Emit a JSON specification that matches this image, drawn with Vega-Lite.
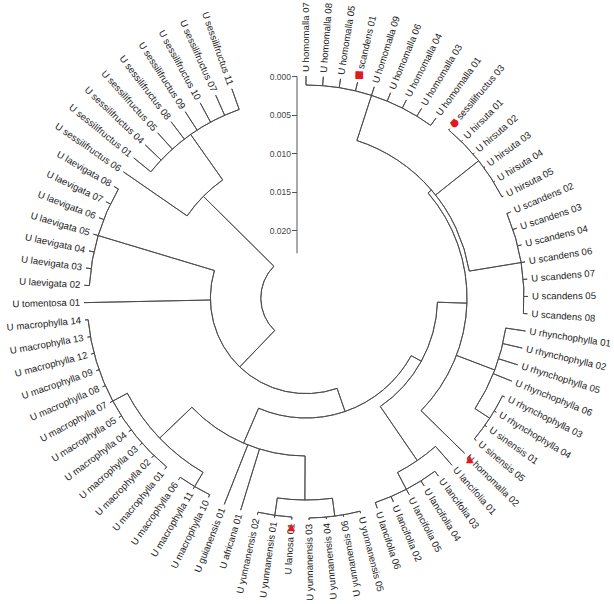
{
  "$schema": "https://vega.github.io/schema/vega-lite/v6.json",
  "width": 612,
  "height": 596,
  "autosize": {"type": "none"},
  "padding": {"left": 0, "top": 0, "right": 2, "bottom": 8},
  "background": "white",
  "config": {"view": {"stroke": null}, "font": "Liberation Sans"},
  "datasets": {
    "tips": [
      {"name": "U homomalla 07", "order": 0, "parent_d": 0.00117},
      {"name": "U homomalla 08", "order": 1, "parent_d": 0.00117},
      {"name": "U homomalla 05", "order": 2, "parent_d": 0.00117},
      {"name": "U scandens 01", "order": 3, "parent_d": 0.00117, "marker": "square"},
      {"name": "U homomalla 09", "order": 4, "parent_d": 0.00117},
      {"name": "U homomalla 06", "order": 5, "parent_d": 0.00117},
      {"name": "U homomalla 04", "order": 6, "parent_d": 0.00117},
      {"name": "U homomalla 03", "order": 7, "parent_d": 0.00117},
      {"name": "U homomalla 01", "order": 8, "parent_d": 0.00117},
      {"name": "U sessilifructus 03", "order": 9, "parent_d": 0.00019, "marker": "circle"},
      {"name": "U hirsuta 01", "order": 10, "parent_d": 0.00019},
      {"name": "U hirsuta 02", "order": 11, "parent_d": 0.00019},
      {"name": "U hirsuta 03", "order": 12, "parent_d": 0.00019},
      {"name": "U hirsuta 04", "order": 13, "parent_d": 0.00019},
      {"name": "U hirsuta 05", "order": 14, "parent_d": 0.00019},
      {"name": "U scandens 02", "order": 15, "parent_d": 0.00052},
      {"name": "U scandens 03", "order": 16, "parent_d": 0.00052},
      {"name": "U scandens 04", "order": 17, "parent_d": 0.00052},
      {"name": "U scandens 06", "order": 18, "parent_d": 0.00052},
      {"name": "U scandens 07", "order": 19, "parent_d": 0.00052},
      {"name": "U scandens 05", "order": 20, "parent_d": 0.00052},
      {"name": "U scandens 08", "order": 21, "parent_d": 0.00052},
      {"name": "U rhynchophylla 01", "order": 22, "parent_d": 0.00259},
      {"name": "U rhynchophylla 02", "order": 23, "parent_d": 0.00259},
      {"name": "U rhynchophylla 05", "order": 24, "parent_d": 0.00259},
      {"name": "U rhynchophylla 06", "order": 25, "parent_d": 0.00259},
      {"name": "U rhynchophylla 03", "order": 26, "parent_d": 0.00032},
      {"name": "U rhynchophylla 04", "order": 27, "parent_d": 0.00032},
      {"name": "U sinensis 01", "order": 28, "parent_d": 0.00032},
      {"name": "U sinensis 05", "order": 29, "parent_d": 0.00032},
      {"name": "U homomalla 02", "order": 30, "parent_d": 0.0079, "marker": "triangle"},
      {"name": "U lancifolia 01", "order": 31, "parent_d": 0.00324},
      {"name": "U lancifolia 03", "order": 32, "parent_d": 0.00078},
      {"name": "U lancifolia 04", "order": 33, "parent_d": 0.00078},
      {"name": "U lancifolia 05", "order": 34, "parent_d": 0.00078},
      {"name": "U lancifolia 02", "order": 35, "parent_d": 0.00078},
      {"name": "U lancifolia 06", "order": 36, "parent_d": 0.00078},
      {"name": "U yunnanensis 05", "order": 37, "parent_d": 0.00026},
      {"name": "U yunnanensis 06", "order": 38, "parent_d": 0.00026},
      {"name": "U yunnanensis 04", "order": 39, "parent_d": 0.00026},
      {"name": "U yunnanensis 03", "order": 40, "parent_d": 0.00026},
      {"name": "U lanosa 01", "order": 41, "parent_d": 0.00032, "marker": "triangle"},
      {"name": "U yunnanensis 01", "order": 42, "parent_d": 0.00032},
      {"name": "U yunnanensis 02", "order": 43, "parent_d": 0.00032},
      {"name": "U africana 01", "order": 44, "parent_d": 0.00829},
      {"name": "U guianensis 01", "order": 45, "parent_d": 0.00829},
      {"name": "U macrophylla 10", "order": 46, "parent_d": 0.00039},
      {"name": "U macrophylla 11", "order": 47, "parent_d": 0.00039},
      {"name": "U macrophylla 06", "order": 48, "parent_d": 0.00039},
      {"name": "U macrophylla 01", "order": 49, "parent_d": 0.00039},
      {"name": "U macrophylla 02", "order": 50, "parent_d": 0.00039},
      {"name": "U macrophylla 03", "order": 51, "parent_d": 0.00039},
      {"name": "U macrophylla 04", "order": 52, "parent_d": 0.00039},
      {"name": "U macrophylla 05", "order": 53, "parent_d": 0.00039},
      {"name": "U macrophylla 07", "order": 54, "parent_d": 0.00039},
      {"name": "U macrophylla 08", "order": 55, "parent_d": 0.00039},
      {"name": "U macrophylla 09", "order": 56, "parent_d": 0.00039},
      {"name": "U macrophylla 12", "order": 57, "parent_d": 0.00039},
      {"name": "U macrophylla 13", "order": 58, "parent_d": 0.00039},
      {"name": "U macrophylla 14", "order": 59, "parent_d": 0.00039},
      {"name": "U tomentosa 01", "order": 60, "parent_d": 0.01637},
      {"name": "U laevigata 02", "order": 61, "parent_d": 0.00065},
      {"name": "U laevigata 03", "order": 62, "parent_d": 0.00065},
      {"name": "U laevigata 04", "order": 63, "parent_d": 0.00065},
      {"name": "U laevigata 05", "order": 64, "parent_d": 0.00065},
      {"name": "U laevigata 06", "order": 65, "parent_d": 0.00065},
      {"name": "U laevigata 07", "order": 66, "parent_d": 0.00065},
      {"name": "U laevigata 08", "order": 67, "parent_d": 0.00065},
      {"name": "U sessilifructus 06", "order": 68, "parent_d": 0.01004},
      {"name": "U sessilifructus 01", "order": 69, "parent_d": 0.00285},
      {"name": "U sessilifructus 04", "order": 70, "parent_d": 0.00285},
      {"name": "U sessilifructus 05", "order": 71, "parent_d": 0.00285},
      {"name": "U sessilifructus 08", "order": 72, "parent_d": 0.00285},
      {"name": "U sessilifructus 09", "order": 73, "parent_d": 0.00285},
      {"name": "U sessilifructus 10", "order": 74, "parent_d": 0.00285},
      {"name": "U sessilifructus 07", "order": 75, "parent_d": 0.00285},
      {"name": "U sessilifructus 11", "order": 76, "parent_d": 0.00285}
    ],
    "nodes": [
      {"node": "root", "pos": 60.11, "d": 0.0229, "lo": 49.97, "hi": 70.25},
      {"node": "A", "pos": 49.97, "d": 0.01637, "parent_d": 0.0229, "lo": 35.94, "hi": 64},
      {"node": "B", "pos": 70.25, "d": 0.01004, "parent_d": 0.0229, "lo": 68, "hi": 72.5},
      {"node": "C", "pos": 35.94, "d": 0.01321, "parent_d": 0.01637, "lo": 26.5, "hi": 45.375},
      {"node": "D", "pos": 72.5, "d": 0.00285, "parent_d": 0.01004, "lo": 69, "hi": 76},
      {"node": "E", "pos": 64, "d": 0.00065, "parent_d": 0.01637, "lo": 61, "hi": 67},
      {"node": "F", "pos": 45.375, "d": 0.00829, "parent_d": 0.01321, "lo": 40.25, "hi": 50.5},
      {"node": "G", "pos": 40.25, "d": 0.00259, "parent_d": 0.00829, "lo": 38.5, "hi": 42},
      {"node": "I", "pos": 50.5, "d": 0.00253, "parent_d": 0.00829, "lo": 47, "hi": 54},
      {"node": "J", "pos": 47, "d": 0.00039, "parent_d": 0.00253, "lo": 46, "hi": 48},
      {"node": "HK", "pos": 54, "d": 0.00039, "parent_d": 0.00253, "lo": 49, "hi": 59},
      {"node": "L", "pos": 42, "d": 0.00032, "parent_d": 0.00259, "lo": 41, "hi": 43},
      {"node": "M", "pos": 38.5, "d": 0.00026, "parent_d": 0.00259, "lo": 37, "hi": 40},
      {"node": "N", "pos": 26.5, "d": 0.01172, "parent_d": 0.01321, "lo": 20.5, "hi": 32.5},
      {"node": "P", "pos": 20.5, "d": 0.0079, "parent_d": 0.01172, "lo": 11, "hi": 30},
      {"node": "T", "pos": 32.5, "d": 0.00324, "parent_d": 0.01172, "lo": 31, "hi": 34},
      {"node": "U", "pos": 34, "d": 0.00078, "parent_d": 0.00324, "lo": 32, "hi": 36},
      {"node": "Y", "pos": 11, "d": 0.00732, "parent_d": 0.0079, "lo": 4, "hi": 18},
      {"node": "S", "pos": 24.75, "d": 0.00259, "parent_d": 0.0079, "lo": 22, "hi": 27.5},
      {"node": "V", "pos": 27.5, "d": 0.00032, "parent_d": 0.00259, "lo": 26, "hi": 29},
      {"node": "Z", "pos": 4, "d": 0.00117, "parent_d": 0.00732, "lo": 0, "hi": 8},
      {"node": "W", "pos": 11.5, "d": 0.00019, "parent_d": 0.00732, "lo": 9, "hi": 14},
      {"node": "X", "pos": 18, "d": 0.00052, "parent_d": 0.00732, "lo": 15, "hi": 21}
    ]
  },
  "layer": [
    {
      "data": {"values": [{"v": 0}, {"v": 0.0229}]},
      "mark": {"type": "point", "opacity": 0},
      "encoding": {
        "y": {
          "field": "v", "type": "quantitative",
          "scale": {"domain": [0, 0.0229], "range": [76, 252.8], "nice": false, "zero": false},
          "axis": {"values": [0, 0.005, 0.01, 0.015, 0.02], "format": ".3f", "title": null, "offset": -296.5, "grid": false,
                   "domainColor": "#555", "tickColor": "#555", "labelColor": "#444", "labelFont": "Liberation Sans",
                   "labelFontSize": 8.5, "tickSize": 5, "labelPadding": 1, "domainWidth": 1, "tickWidth": 1}
        }
      }
    },
    {
      "data": {"name": "nodes"},
      "transform": [{"filter": "isValid(datum.parent_d)"}],
      "mark": {"type": "arc", "filled": false, "stroke": "#4a4a4a", "strokeWidth": 0.9},
      "encoding": {
        "theta": {"field": "pos", "type": "quantitative", "stack": null, "scale": {"domain": [0, 80.357], "range": [0, 6.283185]}},
        "theta2": {"field": "pos"},
        "radius": {"field": "parent_d", "type": "quantitative", "scale": {"domain": [0, 0.02], "range": [222, 67.6], "zero": false, "nice": false}},
        "radius2": {"field": "d"}
      }
    },
    {
      "data": {"name": "nodes"},
      "mark": {"type": "arc", "filled": false, "stroke": "#4a4a4a", "strokeWidth": 0.9},
      "encoding": {
        "theta": {"field": "lo", "type": "quantitative", "stack": null, "scale": {"domain": [0, 80.357], "range": [0, 6.283185]}},
        "theta2": {"field": "hi"},
        "radius": {"field": "d", "type": "quantitative", "scale": {"domain": [0, 0.02], "range": [222, 67.6], "zero": false, "nice": false}},
        "radius2": {"field": "d"}
      }
    },
    {
      "data": {"name": "tips"},
      "mark": {"type": "arc", "filled": false, "stroke": "#4a4a4a", "strokeWidth": 0.9},
      "encoding": {
        "theta": {"field": "order", "type": "quantitative", "stack": null, "scale": {"domain": [0, 80.357], "range": [0, 6.283185]}},
        "theta2": {"field": "order"},
        "radius": {"field": "parent_d", "type": "quantitative", "scale": {"domain": [0, 0.02], "range": [222, 67.6], "zero": false, "nice": false}},
        "radius2": {"datum": 0}
      }
    },
    {
      "data": {"name": "tips"},
      "transform": [{"filter": "datum.order <= 37"}],
      "mark": {"type": "text", "align": "left", "baseline": "middle", "font": "Liberation Sans", "fontSize": 9.6, "color": "#222"},
      "encoding": {
        "theta": {"field": "order", "type": "quantitative", "stack": null, "scale": {"domain": [0, 80.357], "range": [0, 6.283185]}},
        "radius": {"datum": -0.00052, "type": "quantitative", "scale": {"domain": [0, 0.02], "range": [222, 67.6], "zero": false, "nice": false}},
        "angle": {"field": "order", "type": "quantitative", "scale": {"domain": [0, 80.357], "range": [-90, 270]}, "legend": null},
        "dx": {"condition": {"test": "datum.marker", "value": 12}, "value": 0},
        "text": {"field": "name"}
      }
    },
    {
      "data": {"name": "tips"},
      "transform": [{"filter": "datum.order >= 38"}],
      "mark": {"type": "text", "align": "right", "baseline": "middle", "font": "Liberation Sans", "fontSize": 9.6, "color": "#222"},
      "encoding": {
        "theta": {"field": "order", "type": "quantitative", "stack": null, "scale": {"domain": [0, 80.357], "range": [0, 6.283185]}},
        "radius": {"datum": -0.00052, "type": "quantitative", "scale": {"domain": [0, 0.02], "range": [222, 67.6], "zero": false, "nice": false}},
        "angle": {"field": "order", "type": "quantitative", "scale": {"domain": [0, 80.357], "range": [-270, 90]}, "legend": null},
        "dx": {"condition": {"test": "datum.marker", "value": -12}, "value": 0},
        "text": {"field": "name"}
      }
    },
    {
      "data": {"name": "tips"},
      "transform": [{"filter": "datum.marker"}],
      "mark": {"type": "text", "align": "center", "baseline": "middle", "font": "DejaVu Sans", "fontSize": 10, "color": "#e8161b"},
      "encoding": {
        "theta": {"field": "order", "type": "quantitative", "stack": null, "scale": {"domain": [0, 80.357], "range": [0, 6.283185]}},
        "radius": {"datum": -0.00097, "type": "quantitative", "scale": {"domain": [0, 0.02], "range": [222, 67.6], "zero": false, "nice": false}},
        "text": {"condition": [{"test": "datum.marker === 'square'", "value": "■"}, {"test": "datum.marker === 'circle'", "value": "●"}], "value": "▲"}
      }
    }
  ],
  "resolve": {"scale": {"angle": "independent"}}
}
